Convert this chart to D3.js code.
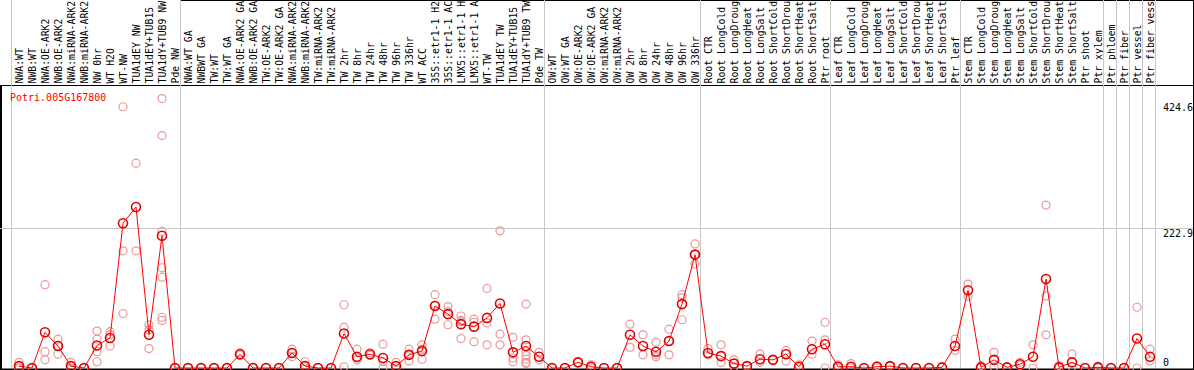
<!DOCTYPE html>
<html>
<head>
<meta charset="utf-8">
<script src="https://cdn.jsdelivr.net/npm/d3@7"></script>
<style>
  body { margin: 0; background: #fff; }
  svg text { font-family: "DejaVu Sans Mono", monospace; font-size: 10px; }
  svg text.lbl { font-size: 9.8px; }
</style>
</head>
<body>
<div id="chart"></div>
<script>
const geneName = "Potri.005G167800";

// sample names as far as the header shows them
const samples = [
  "NWA:WT","NWB:WT","NWA:OE-ARK2","NWB:OE-ARK2","NWA:miRNA-ARK2","NWB:miRNA-ARK2","NW 0hr","WT H2O","WT-NW","TUA1dEY NW","TUA1dEY+TUB15","TUA1dY+TUB9 NW","Pde NW",
  "NWA:WT GA","NWBWT GA","TW:WT","TW:WT GA","NWA:OE-ARK2 GA","NWB:OE-ARK2 GA","TW:OE-ARK2","TW:OE-ARK2 GA","NWA:miRNA-ARK2","NWB:miRNA-ARK2","TW:miRNA-ARK2","TW:miRNA-ARK2","TW 2hr","TW 8hr","TW 24hr","TW 48hr","TW 96hr","TW 336hr","WT ACC","35S::etr1-1 H2","35S::etr1-1 AC","LMX5::etr1-1 H","LMX5::etr1-1 A","WT-TW","TUA1dEY TW","TUA1dEY+TUB15","TUA1dY+TUB9 TW","Pde TW",
  "OW:WT","OW:WT GA","OW:OE-ARK2","OW:OE-ARK2 GA","OW:miRNA-ARK2","OW:miRNA-ARK2","OW 2hr","OW 8hr","OW 24hr","OW 48hr","OW 96hr","OW 336hr",
  "Root CTR","Root LongCold","Root LongDroug","Root LongHeat","Root LongSalt","Root ShortCold","Root ShortDrou","Root ShortHeat","Root ShortSalt","Ptr root",
  "Leaf CTR","Leaf LongCold","Leaf LongDroug","Leaf LongHeat","Leaf LongSalt","Leaf ShortCold","Leaf ShortDrou","Leaf ShortHeat","Leaf ShortSalt","Ptr leaf",
  "Stem CTR","Stem LongCold","Stem LongDroug","Stem LongHeat","Stem LongSalt","Stem ShortCold","Stem ShortDrou","Stem ShortHeat","Stem ShortSalt","Ptr shoot","Ptr xylem",
  "Ptr phloem","Ptr fiber","Ptr vessel","Ptr fiber vess"
];

// index of first sample of each group (last entry = end)
const groupStarts = [0, 13, 41, 53, 63, 73, 84, 85, 86, 87, 88];

const means = [
  3, 0, 57, 35, 3, 0, 36, 48, 231, 257, 53, 211, 0,
  0, 0, 0, 0, 22, 0, 0, 0, 24, 3, 0, 0, 55, 18, 22, 16, 3, 21, 27, 99, 86, 70, 66, 80, 103, 25, 35, 18,
  0, 0, 9, 2, 0, 0, 53, 35, 26, 43, 102, 181,
  24, 19, 7, 3, 14, 13, 22, 2, 30, 38,
  2, 2, 0, 2, 3, 0, 0, 0, 1, 35,
  124, 1, 13, 1, 6, 18, 142, 1, 9, 0, 1,
  0, 0, 47, 18
];

const replicates = [
  [9,0,0],[0,0],[133,26,13],[46,22,36],[9,0,0],[0,0],[59,46,26,10],[58,53,35],[417,187,87],[327,187],[69,61,31],[430,371,218,160,145,81,76],[0,0],
  [0,0],[0,0],[0,0],[0,0],[24,20],[0],[0],[0],[30,18,24],[10,0],[0],[0],[101,65,2],[30,13,16],[24,20],[38,10,0],[9,0],[30,11,21],[37,14,30],[117,78,100],[98,69,90],[83,74,47,76],[78,73,42],[127,72,37],[219,54,37],[49,16,10],[102,45,26,20,14,9,7],[25,13],
  [0],[0],[9],[5,0],[0],[0],[70,33],[53,21],[41,21,18],[62,43,21],[117,112,77],[198,166,181],
  [31,21],[37,9],[13,2],[3],[22,9],[13],[28,11],[5,0],[43,22],[73,45,0],
  [5,0],[7,0],[0],[4,0],[3],[0],[0],[0],[1],[46,28],
  [134,114],[4,0],[25,2],[1],[9,4],[37,0],[260,115,53],[4,0],[22,2],[0],[3,0],
  [0],[0],[97,0],[30,11]
];

const yTicks = [0, 222.9, 424.6];

const width = 1194, height = 370;
const headerH = 85, plotBottom = 368;

const x = d3.scalePoint()
            .domain(d3.range(samples.length))
            .range([19, 19 + 13 * (samples.length - 1)]);

const y = d3.scaleLinear()
            .domain([0, 424.6])
            .range([plotBottom, 102]);

const svg = d3.select("#chart")
  .append("svg")
    .attr("width", width)
    .attr("height", height);

// sample labels, rotated to read bottom-up from the header line
svg.selectAll(".lbl")
  .data(samples)
  .enter().append("text")
    .attr("class", "lbl")
    .attr("transform", (d, i) => `translate(${x(i) + 3.5},${headerH - 1.5}) rotate(-90)`)
    .style("text-anchor", "start")
    .attr("fill", "#000")
    .text(d => d);

// frame
svg.append("line")
    .attr("x1", 180).attr("x2", width).attr("y1", 0.5).attr("y2", 0.5)
    .attr("stroke", "#000");
svg.append("line")
    .attr("x1", 0).attr("x2", width).attr("y1", headerH + 0.5).attr("y2", headerH + 0.5)
    .attr("stroke", "#000");
svg.append("line")
    .attr("x1", 0).attr("x2", width).attr("y1", plotBottom + 1.5).attr("y2", plotBottom + 1.5)
    .attr("stroke", "#000").attr("stroke-width", 2);
svg.append("line")
    .attr("x1", 1).attr("x2", 1).attr("y1", headerH).attr("y2", height)
    .attr("stroke", "#000").attr("stroke-width", 2);
svg.append("line")
    .attr("x1", width - 0.5).attr("x2", width - 0.5).attr("y1", 0).attr("y2", height)
    .attr("stroke", "#000");

// horizontal grid at middle tick
svg.append("line")
    .attr("x1", 0).attr("x2", width - 1)
    .attr("y1", Math.round(y(222.9)) + 0.5).attr("y2", Math.round(y(222.9)) + 0.5)
    .attr("stroke", "#c8c8c8");

// group separators
svg.selectAll(".sep")
  .data(groupStarts)
  .enter().append("line")
    .attr("class", "sep")
    .attr("x1", d => Math.round(19 + 13 * d - 8.5) + 0.5)
    .attr("x2", d => Math.round(19 + 13 * d - 8.5) + 0.5)
    .attr("y1", 0).attr("y2", plotBottom)
    .attr("stroke", "#c8c8c8");

// y tick labels on the right
svg.selectAll(".ytick")
  .data(yTicks)
  .enter().append("text")
    .attr("class", "ytick")
    .attr("x", 1163)
    .attr("y", d => d === 0 ? y(d) - 2 : y(d) + 9)
    .attr("fill", "#000")
    .text(d => d);

// gene name
svg.append("text")
    .attr("x", 10)
    .attr("y", 101)
    .attr("fill", "#f00")
    .text(geneName);

// replicate points
const reps = [];
replicates.forEach((arr, i) => arr.forEach(v => reps.push({ i: i, v: v })));

svg.selectAll(".rep")
  .data(reps)
  .enter().append("circle")
    .attr("class", "rep")
    .attr("cx", d => x(d.i))
    .attr("cy", d => y(d.v))
    .attr("r", 4)
    .attr("fill", "none")
    .attr("stroke", "#e89898")
    .attr("stroke-width", 1.2);

// mean line
const line = d3.line()
  .x((d, i) => x(i))
  .y(d => y(d));

svg.append("path")
    .datum(means)
    .attr("d", line)
    .attr("fill", "none")
    .attr("stroke", "#f00")
    .attr("stroke-width", 1);

svg.selectAll(".mean")
  .data(means)
  .enter().append("circle")
    .attr("class", "mean")
    .attr("cx", (d, i) => x(i))
    .attr("cy", d => y(d))
    .attr("r", 4.5)
    .attr("fill", "none")
    .attr("stroke", "#e00000")
    .attr("stroke-width", 1.6);
</script>
</body>
</html>
